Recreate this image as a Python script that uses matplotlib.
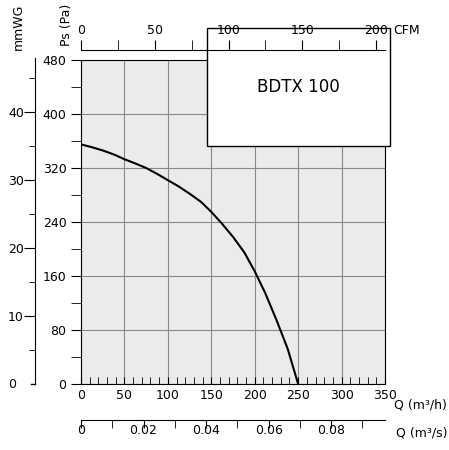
import numpy as np
import matplotlib.pyplot as plt

# fan curve BDTX 100
q = [0, 12, 25, 38, 50, 62, 75, 88, 100, 112, 125, 138, 150, 162, 175, 188, 200, 212, 225, 238, 250]
ps = [355, 351, 346, 340, 333, 327, 320, 311, 302, 293, 282, 270, 255, 238, 218, 195, 167, 135, 95, 52, 0]

qmax = 350.0
pmax = 480.0

fig = plt.figure(figsize=(4.49, 4.5), dpi=100)
l, b, w, h = 81/449, 66/450, 304/449, 324/450
ax = fig.add_axes([l, b, w, h])
ax.set_facecolor('#ebebeb')
ax.plot(q, ps, color='black', lw=1.5)
ax.set_xlim(0, qmax)
ax.set_ylim(0, pmax)
ax.set_xticks(np.arange(0, 351, 50))
ax.set_xticks(np.arange(0, 351, 10), minor=True)
ax.set_yticks(np.arange(0, 481, 80))
ax.set_yticks(np.arange(0, 481, 40), minor=True)
ax.grid(True, which='major', color='#888888', lw=0.8)
ax.tick_params(axis='x', which='both', direction='in', labelsize=9, length=5)
ax.tick_params(axis='y', which='both', direction='out', labelsize=9, length=7)
ax.text(qmax + 10, -22, 'Q (m³/h)', fontsize=9, va='top', ha='left', clip_on=False)
ax.text(203, 440, 'BDTX 100', fontsize=12, va='center', ha='left',
        bbox=dict(facecolor='white', edgecolor='black', pad=3, boxstyle='square'))


def side_axis(rect):
    a = fig.add_axes(rect)
    a.patch.set_visible(False)
    for s in a.spines.values():
        s.set_visible(False)
    return a

# CFM axis on top
cfm = side_axis([l, 1 - 50/450, w, 0.001])
cfm.set_xlim(0, qmax / 1.699)
cfm.spines['bottom'].set_visible(True)
cfm.xaxis.set_ticks_position('bottom')
cfm.set_xticks(np.arange(0, 201, 50))
cfm.set_xticks(np.arange(0, 201, 25), minor=True)
cfm.set_yticks([])
cfm.tick_params(axis='x', which='both', direction='in', length=7, labelsize=9,
                labelbottom=False, labeltop=True, pad=9)
cfm.annotate('CFM', (1.0, 0), xycoords='axes fraction', xytext=(6, 9),
             textcoords='offset points', fontsize=9, va='bottom', ha='left')
fig.text(60/449, 1 - 4/450, 'Ps (Pa)', rotation=90, fontsize=9, ha='left', va='top')

# m3/s axis at bottom
ms = side_axis([l, 30/450, w, 0.001])
ms.set_xlim(0, qmax / 3600)
ms.spines['top'].set_visible(True)
ms.xaxis.set_ticks_position('top')
ms.set_xticks(np.arange(0, 0.09, 0.02), ['0', '0.02', '0.04', '0.06', '0.08'])
ms.set_xticks(np.arange(0, 0.095, 0.01), minor=True)
ms.set_yticks([])
ms.tick_params(axis='x', which='both', direction='in', length=6, labelsize=9,
               labeltop=False, labelbottom=True, pad=3)
ms.annotate('Q (m³/s)', (1.0, 0), xycoords='axes fraction', xytext=(8, -5),
            textcoords='offset points', fontsize=9, va='top', ha='left')

# mmWG axis on left
mm = side_axis([35/449, b, 0.001, 326/450])
mm.set_ylim(0, pmax / 10)
mm.spines['right'].set_visible(True)
mm.yaxis.set_ticks_position('right')
mm.set_yticks([10, 20, 30, 40])
mm.set_yticks(np.arange(5, 48, 5), minor=True)
mm.set_xticks([])
mm.tick_params(axis='y', which='major', direction='in', length=8, labelsize=9,
               labelright=False, labelleft=True, pad=8)
mm.tick_params(axis='y', which='minor', direction='in', length=4)
mm.plot([-10, 0], [0, 0], color='black', lw=1, transform=mm.get_yaxis_transform(), clip_on=False)
fig.text(8/449, b, '0', fontsize=9, ha='left', va='center')
fig.text(12/449, 1 - 4/450, 'mmWG', rotation=90, fontsize=9, ha='left', va='top')

fig.savefig('out.png', dpi=100)
